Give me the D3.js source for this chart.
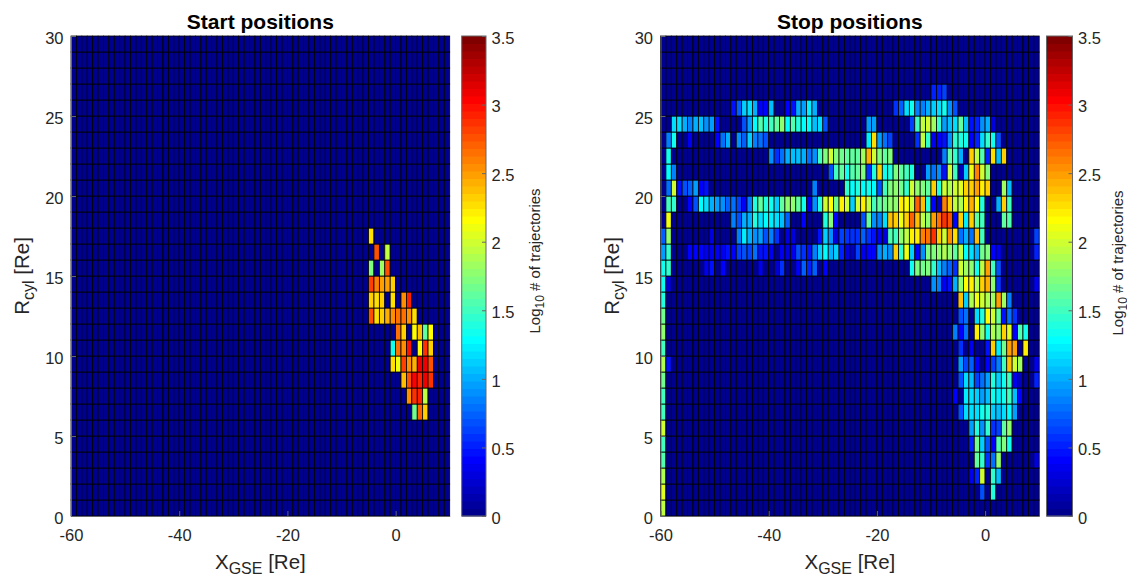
<!DOCTYPE html>
<html>
<head>
<meta charset="utf-8">
<script src="https://cdn.jsdelivr.net/npm/d3@7"></script>
<style>
  body { margin: 0; background: #fff; }
  text { font-family: "Liberation Sans", Arial, sans-serif; fill: #262626; }
  .axis path, .axis line { stroke: #666; stroke-width: 1; }
</style>
</head>
<body>
<svg id="fig" width="1127" height="577"></svg>
<script>
// axis setup
const xDomain = [-60, 10];
const yDomain = [0, 30];
const xTicks = [-60, -40, -20, 0];
const yTicks = [0, 5, 10, 15, 20, 25, 30];
const cbTicks = [0, 0.5, 1, 1.5, 2, 2.5, 3, 3.5];
const cbDomain = [0, 3.5];

// each row is a list of runs: [first X cell, value, value, ...], log10 counts
const startRows = {
  6: [[3, 1.65, 2.7, 2.35]],
  7: [[2, 2.55, 2.85, 2.9, 1.95]],
  8: [[1, 2.4, 2.75, 3.05, 2.95, 3.1, 2.85]],
  9: [[-1, 2.25, 2.1, 2.8, 2.55, 2.45, 3.1, 3.1, 2.75]],
  10: [[-1, 1.35, 2.65, 2.55, 3.0], [4, 2.15, 2.85, 2.3]],
  11: [[0, 2.65, 2.3], [3, 2.15, 2.4, 1.6, 2.15]],
  12: [[-5, 2.75, 2.25, 2.3, 2.45, 2.55, 2.65, 2.65, 2.55, 2.25]],
  13: [[-5, 2.3, 2.25, 2.3], [-1, 2.25], [1, 2.55, 2.95]],
  14: [[-5, 2.8, 2.6, 2.5, 2.5, 2.3]],
  15: [[-5, 1.7], [-3, 1.85, 2.75]],
  16: [[-4, 2.75], [-2, 1.95]],
  17: [[-5, 2.25]]
};

const stopRows = {
  0: [[-60, 1.95]],
  1: [[-60, 2.05], [-1, 0.7], [1, 1.4]],
  2: [[-60, 1.9], [-3, 0.35, 0.5, 2.0, 0, 1.45, 1.05]],
  3: [[-60, 1.55], [-2, 1.6, 1.45, 0.55, 0.8, 1.75], [9, 0.3]],
  4: [[-60, 1.5], [-3, 0.5, 1.65, 1.1, 0.7, 0.4, 1.55, 1.7, 1.35]],
  5: [[-60, 2.0], [-3, 0.95, 1.4, 0.9, 1.45, 0.55, 0.65, 1.6, 1.75]],
  6: [[-60, 1.5], [-5, 0.7, 1.2, 1.15, 1.2, 1.35, 1.4, 1.1, 1.05, 1.2, 1.3, 0.95]],
  7: [[-60, 1.5], [-6, 0.4, 0, 1.25, 1.2, 1.1, 0.95, 1.05, 1.35, 1.25, 1.35, 1.5, 1.05, 0.4]],
  8: [[-60, 1.65], [-5, 0.7, 1.15, 1.05, 0.65, 0.8, 0.95, 1.4, 1.1, 1.35, 1.5, 0.35, 0.2], [9, 0.5]],
  9: [[-60, 1.9, 0.45], [-5, 0.95, 0.65, 0.75, 0.4, 0, 0.4, 0.65, 0.85, 1.5, 2.4, 2.0, 1.85], [9, 0.35]],
  10: [[-60, 1.5], [-5, 0.6, 0, 0.35, 0, 0, 0.45, 2.35, 1.25, 1.65, 2.5, 2.5, 0, 2.2]],
  11: [[-60, 1.75], [-6, 0.85, 0.4, 0.8, 0, 2.2, 1.8, 1.35, 1.9, 1.75, 2.35, 2.05, 0.4, 1.55, 1.35]],
  12: [[-60, 1.65], [-5, 0.7, 0.8, 0, 1.15, 1.4, 2.15, 2.0, 1.6, 0.45, 0.8, 0.6]],
  13: [[-60, 1.4], [-5, 2.4, 1.1, 1.9, 2.1, 2.0, 1.9, 1.85, 2.5, 1.85, 0.85]],
  14: [[-60, 1.35, 0.3], [-10, 0.9, 0.85, 0.4, 0.45, 1.0, 1.75, 2.15, 2.2, 1.9, 2.3, 2.45, 1.8, 0.6], [9, 0.35]],
  15: [[-60, 1.35, 1.45], [-52, 0.35, 0.45, 0, 0.4], [-42, 0.35], [-39, 0.25, 0.6], [-35, 0.4, 0.75, 0.5, 0.75, 0, 0.4],
       [-14, 1.35, 1.7, 1.65, 1.7, 1.45, 1.05, 0.85, 0.75, 0.55, 2.0, 1.85, 1.8, 1.35, 1.95, 2.5, 1.5, 0.7]],
  16: [[-60, 0.95, 1.45],
       [-55, 0.4, 0.4, 0.4, 0.35, 0.35, 0.35, 0.35, 0.45, 0.4, 0.65, 0.7, 0.65, 0.8, 0.45, 0.45, 0.35, 0, 0.35, 0.3, 0.35,
        0.7, 0.55, 0.45, 0.85, 1.1, 1.3, 1.0, 1.1, 0.5, 0.3, 0.2, 0.65, 0.35, 0.4, 0.4, 0.9, 1.0, 0.9, 2.3, 1.45, 2.1, 1.1,
        0.4, 0.9, 1.7, 1.7, 1.8, 1.9, 1.75, 1.6, 1.95, 1.3, 1.2, 1.0, 1.65, 1.7, 0.4, 0.35], [9, 0.5]],
  17: [[-60, 0.75, 1.75], [-51, 0.3], [-46, 0.85, 1.25, 1.0, 0.9, 0.95, 0.7, 0.85, 0.6], [-37, 0.3, 0.3],
       [-31, 0.45, 1.1, 0.9, 0.3, 0.65, 0.55, 0.6, 0.6, 0.75, 0.55, 0.45, 0.35, 0.3, 1.55, 1.5, 1.75, 1.95, 2.2, 2.2, 2.6,
        2.65, 2.85, 2.3, 2.0, 2.55, 2.25, 0.8, 1.0, 0.8, 2.4, 1.5], [9, 0.65]],
  18: [[-59, 2.1], [-47, 0.85, 0.7, 1.0, 1.0, 1.4, 1.2, 1.3, 1.25, 1.2, 1.05, 0.75], [-34, 0.4], [-30, 1.4, 1.7, 0.4],
       [-23, 0.7, 1.6, 0.9, 0.85, 1.2, 2.4, 2.35, 2.1, 2.3, 2.7, 2.4, 1.95, 1.8, 2.5, 2.65, 2.85, 2.75, 0.4, 2.3, 1.25,
        2.3, 1.6, 1.5], [3, 1.6, 1.55]],
  19: [[-59, 1.5, 1.45],
       [-55, 0.4, 0.7, 1.3, 1.2, 1.0, 0.95, 0.9, 0.75, 0.8, 0.65, 0.4, 0.85, 1.4, 1.6, 1.4, 1.35, 1.1, 1.6, 1.75, 1.8, 1.6,
        1.35, 0.35, 0.9, 1.4, 2.0, 2.15, 1.65, 2.2, 2.0, 1.1, 2.0, 2.2, 1.95, 1.5, 1.6, 1.65, 1.8, 1.8, 2.2, 2.15, 2.0, 2.7,
        2.4, 1.4, 0.4, 0.2, 2.6, 2.3, 1.95, 1.9, 2.2, 2.45, 2.15, 1.4], [2, 1.0, 2.3, 1.5]],
  20: [[-59, 0.8, 2.0, 0.45, 0.7, 0.75, 0.95, 0.4, 0.45], [-32, 0.85],
       [-26, 1.45, 1.3, 1.4, 1.3, 1.35, 1.3, 0.7, 1.5, 1.7, 1.75, 1.65, 1.45, 2.0, 1.8, 1.7, 1.6, 2.35, 1.4, 2.0, 1.9, 2.0,
        2.05, 2.3, 2.3, 2.5, 2.2, 2.3], [3, 1.85, 1.05]],
  21: [[-59, 1.3, 0.85], [-29, 0.7, 1.5, 1.6, 1.35, 1.55, 1.6, 1.7, 0.6, 1.4, 2.3, 1.35, 1.4, 1.7, 1.6, 1.5, 1.4],
       [-11, 0.95, 0.8, 0.9, 0.45, 2.0, 1.5, 0.2, 1.1, 2.1, 2.6, 2.0, 1.7]],
  22: [[-59, 1.35], [-40, 0.9, 0.55, 0.8, 1.0, 1.05, 1.05, 1.0, 0.8, 0.9, 1.5, 1.7, 2.0, 1.7, 1.65, 1.6, 1.6, 1.6, 1.85,
        2.45, 2.0, 1.7, 1.6, 1.7], [-8, 0.85, 1.6, 1.45, 1.0, 0, 2.35, 1.95, 1.55, 0.5, 2.25, 1.05, 2.3]],
  23: [[-59, 0.85, 1.35], [-55, 0.35], [-50, 0.4, 0.8, 1.0, 0, 0.9, 0.75, 1.1, 0.85, 0.8, 0.7], [-22, 1.25, 2.25, 0.95, 0.8, 0.65],
       [-13, 0.6, 1.95, 1.45, 0.35, 0.4, 0.45, 0.9, 1.45, 1.4, 1.35, 0.4, 0.5, 1.2, 1.45, 1.35, 0.7]],
  24: [[-58, 1.2, 1.15, 1.0, 0.85, 1.0, 1.05, 0.9, 0.95, 0.45], [-45, 0.7, 0.95, 1.3, 1.55, 1.4, 1.5, 1.6, 1.8, 1.3, 1.55, 1.4, 1.3, 1.3, 1.05, 1.2, 0.7],
       [-22, 0.95, 0.95], [-14, 0.65, 1.5, 1.95, 2.0, 1.85, 1.45, 0.95, 1.05, 1.15, 1.6, 1.05, 0.45, 0.5, 0.9, 1.0, 0.3]],
  25: [[-47, 0.45, 0.75, 1.1, 1.2, 1.0, 0.4, 0.4, 1.05], [-37, 0.4, 0.45, 1.0, 0.95, 1.25, 1.0],
       [-17, 0.6, 0.75, 1.15, 1.35, 0.85, 0.85, 1.0, 1.1, 1.2, 1.35, 0.9, 0.7]],
  26: [[-10, 0.5, 0.5, 0.65]]
};

const jetStops = ["#00008f", "#0000ff", "#00ffff", "#ffff00", "#ff0000", "#800000"];
const jetAt = [0, 0.111, 0.365, 0.619, 0.873, 1];
const jetRamp = d3.scaleLinear().domain(jetAt).range(jetStops);
const jet64 = d3.range(64).map(i => jetRamp(i / 63));
const color = d3.scaleQuantize().domain(cbDomain).range(jet64);

function expandRows(rows) {
    let cells = [];
    for (let r = yDomain[0]; r < yDomain[1]; r++) {
        let line = {};
        for (const run of (rows[r] || [])) {
            run.slice(1).forEach((v, i) => { line[run[0] + i] = v; });
        }
        for (let c = xDomain[0]; c < xDomain[1]; c++) {
            cells.push({ x: c, y: r, v: line[c] || 0 });
        }
    }
    return cells;
}

function drawPanel(svg, cfg) {
    const top = 36, bottom = 516;
    const tickFont = '16.5px';
    const xScale = d3.scaleLinear().domain(xDomain).range([cfg.left, cfg.right]);
    const yScale = d3.scaleLinear().domain(yDomain).range([bottom, top]);

    const g = svg.append('g');

    g.append('g').selectAll('rect')
        .data(expandRows(cfg.rows))
        .enter()
        .append('rect')
        .attr('x', d => xScale(d.x))
        .attr('y', d => yScale(d.y + 1))
        .attr('width', d => xScale(d.x + 1) - xScale(d.x))
        .attr('height', d => yScale(d.y) - yScale(d.y + 1))
        .attr('fill', d => color(d.v))
        .attr('stroke', '#000')
        .attr('stroke-width', 0.8);

    const xAxis = d3.axisBottom(xScale).tickValues(xTicks).tickFormat(d => d).tickSize(-5).tickPadding(13).tickSizeOuter(0);
    const yAxis = d3.axisLeft(yScale).tickValues(yTicks).tickSize(-5).tickPadding(7.5).tickSizeOuter(0);

    const xG = g.append('g').attr('class', 'axis').attr('transform', `translate(0,${bottom})`).call(xAxis);
    const yG = g.append('g').attr('class', 'axis').attr('transform', `translate(${cfg.left},0)`).call(yAxis);
    xG.selectAll('text').style('font-size', tickFont).style('font-family', 'Liberation Sans');
    yG.selectAll('text').style('font-size', tickFont).style('font-family', 'Liberation Sans').attr('dy', '0.44em');

    // title
    g.append('text')
        .attr('x', (cfg.left + cfg.right) / 2)
        .attr('y', 28.5)
        .attr('text-anchor', 'middle')
        .style('font-size', '21px')
        .style('font-weight', 'bold')
        .style('fill', '#000')
        .text(cfg.title);

    // x label with subscript
    const xl = g.append('text')
        .attr('x', (cfg.left + cfg.right) / 2)
        .attr('y', 569)
        .attr('text-anchor', 'middle')
        .style('font-size', '20.5px');
    xl.append('tspan').text('X');
    xl.append('tspan').attr('dy', 5).style('font-size', '16px').text('GSE');
    xl.append('tspan').attr('dy', -5).text(' [Re]');

    const yl = g.append('text')
        .attr('transform', `translate(${cfg.left - 42},${(top + bottom) / 2}) rotate(-90)`)
        .attr('text-anchor', 'middle')
        .style('font-size', '20.5px');
    yl.append('tspan').text('R');
    yl.append('tspan').attr('dy', 5).style('font-size', '16px').text('cyl');
    yl.append('tspan').attr('dy', -5).text(' [Re]');

    // colorbar
    const cbScale = d3.scaleLinear().domain(cbDomain).range([bottom, top]);
    const step = (cbDomain[1] - cbDomain[0]) / jet64.length;
    const cbX = cfg.cbX, cbW = cfg.cbW;
    const cb = svg.append('g');
    cb.selectAll('rect')
        .data(jet64)
        .enter()
        .append('rect')
        .attr('x', cbX)
        .attr('y', (d, i) => cbScale((i + 1) * step))
        .attr('width', cbW)
        .attr('height', (d, i) => cbScale(i * step) - cbScale((i + 1) * step) + 0.5)
        .attr('fill', d => d);
    cb.append('rect')
        .attr('x', cbX).attr('y', top)
        .attr('width', cbW).attr('height', bottom - top)
        .attr('fill', 'none')
        .attr('stroke', '#666');
    const cbAxis = d3.axisRight(cbScale).tickValues(cbTicks).tickFormat(d3.format('')).tickSize(-4).tickPadding(5.5).tickSizeOuter(0);
    const cbG = cb.append('g').attr('class', 'axis')
        .attr('transform', `translate(${cbX + cbW},0)`).call(cbAxis);
    cbG.selectAll('text').style('font-size', tickFont).style('font-family', 'Liberation Sans').attr('dy', '0.44em');
    cbG.select('.domain').remove();

    const cl = cb.append('text')
        .attr('transform', `translate(${cfg.cbLabelX},${cfg.cbLabelY}) rotate(-90)`)
        .attr('text-anchor', 'middle')
        .style('font-size', '15px');
    cl.append('tspan').text('Log');
    cl.append('tspan').attr('dy', 4).style('font-size', '12px').text('10');
    cl.append('tspan').attr('dy', -4).text(' # of trajectories');
}

const svg = d3.select('#fig');
drawPanel(svg, { left: 71, right: 449.7, rows: startRows, title: 'Start positions',
    cbX: 461.7, cbW: 24.3, cbLabelX: 540, cbLabelY: 261 });
drawPanel(svg, { left: 660.5, right: 1039.2, rows: stopRows, title: 'Stop positions',
    cbX: 1046.5, cbW: 26, cbLabelX: 1122.5, cbLabelY: 263 });
</script>
</body>
</html>
